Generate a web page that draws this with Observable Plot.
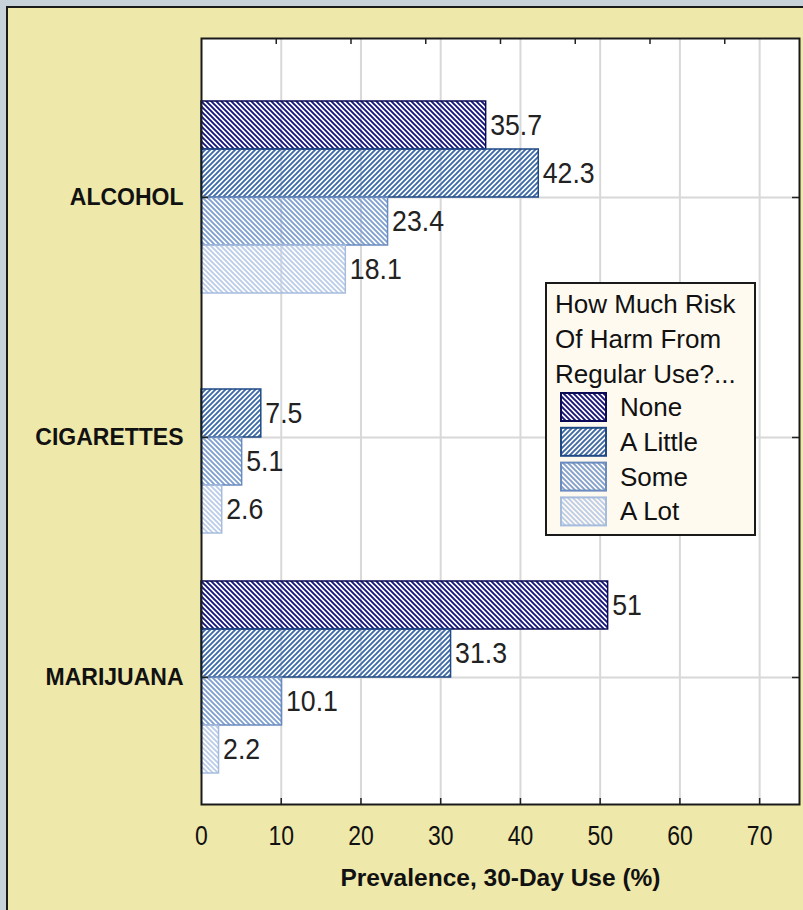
<!DOCTYPE html>
<html><head><meta charset="utf-8">
<script src="https://cdn.jsdelivr.net/npm/d3@7"></script>
<script src="https://cdn.jsdelivr.net/npm/@observablehq/plot@0.6"></script>
<style>
html,body{margin:0;padding:0;background:#c6d1d9;width:803px;height:910px;overflow:hidden}
#panel{position:absolute;left:6px;top:6px;width:830px;height:930px;background:#eee8aa;border-left:2px solid #1a1a1a;border-top:2px solid #1a1a1a;}
#chart{position:absolute;left:0;top:0}
</style></head><body><div id="panel"></div><div id="chart"></div>
<script>
// ---- data ----
const categories = ["ALCOHOL", "CIGARETTES", "MARIJUANA"];
const series = ["None", "A Little", "Some", "A Lot"];
const alcohol = [35.7, 42.3, 23.4, 18.1];
const cigarettes = [null, 7.5, 5.1, 2.6];
const marijuana = [51, 31.3, 10.1, 2.2];
const xTicks = [0, 10, 20, 30, 40, 50, 60, 70];
const topTicks = [10, 20, 30, 40, 50, 60, 70]; // top axis in source uses a 0–80 span
const topAxisMax = 80;
const legendTitle = ["How Much Risk", "Of Harm From", "Regular Use?..."];
const xTitle = "Prevalence, 30-Day Use (%)";

// ---- styles ----
const stripeColors = ["#15157e", "#3d6aa8", "#7fa0d0", "#bccde9"];
const borderColors = ["#0b0b55", "#1f4a86", "#6a8bbf", "#a6bcdd"];
const stripeDir = ["back", "fwd", "back", "back"];
const sans = "'Liberation Sans', Arial, sans-serif";

const valuesByCat = [alcohol, cigarettes, marijuana];
const rows = [];
categories.forEach((c, i) => {
  series.forEach((s, j) => {
    const v = valuesByCat[i][j];
    if (v == null) return;
    rows.push({cat: c, series: s, j, value: v, y1: i - 0.4 + 0.2 * j, y2: i - 0.2 + 0.2 * j, yc: i - 0.3 + 0.2 * j});
  });
});

const W = 803, H = 910, mL = 201, mR = 4, mT = 38, mB = 106;
const fw = W - mL - mR, fh = H - mT - mB;

const plot = Plot.plot({
  width: W, height: H,
  marginLeft: mL, marginRight: mR, marginTop: mT, marginBottom: mB,
  style: {background: "transparent", overflow: "visible"},
  x: {domain: [0, 75]},
  y: {type: "linear", domain: [-0.6625, 2.5292], reverse: true},
  marks: [
    Plot.frame({fill: "white", stroke: null}),
    Plot.ruleX(xTicks.slice(1), {x: d => d, stroke: "#d8d8d8", strokeWidth: 2}),
    Plot.ruleY([0, 1, 2], {y: d => d, stroke: "#d8d8d8", strokeWidth: 2}),
    ...series.map((s, j) => Plot.rect(rows.filter(r => r.j === j), {
      x1: 0, x2: "value", y1: "y1", y2: "y2",
      fill: `url(#hatch${j})`, stroke: borderColors[j], strokeWidth: 1.5
    })),
    Plot.text(rows, {x: "value", y: "yc", text: d => String(d.value), textAnchor: "start", dx: 4,
      fontSize: 29, fontFamily: sans, fill: "#222", className: "vlabel"}),
    Plot.tickX(xTicks.slice(1), {x: d => d, insetTop: fh - 6, stroke: "#222", strokeWidth: 1.5}),
    Plot.tickX(topTicks, {x: d => d * 75 / topAxisMax, insetBottom: fh - 6, stroke: "#222", strokeWidth: 1.5}),
    Plot.tickY([0, 1, 2], {y: d => d, insetRight: fw - 7, stroke: "#222", strokeWidth: 1.5}),
    Plot.tickY([0, 1, 2], {y: d => d, insetLeft: fw - 7, stroke: "#222", strokeWidth: 1.5}),
    Plot.frame({stroke: "#1a1a1a", strokeWidth: 2}),
    Plot.axisX(xTicks, {tickSize: 0, tickPadding: 21, fontSize: 28, fontFamily: sans, color: "#111", label: null, className: "xticks"}),
    Plot.axisY([0, 1, 2], {tickSize: 0, tickPadding: 18, tickFormat: i => categories[i],
      fontSize: 23, fontWeight: "bold", fontFamily: sans, color: "#111", label: null}),
    Plot.text([xTitle], {frameAnchor: "bottom", dy: 81, text: d => d, fontSize: 24.5, fontWeight: "bold", fontFamily: sans, fill: "#111"})
  ]
});

const svg = d3.select(plot);

// condense tick labels horizontally (source uses a narrow bitmap font)
function condense(sel, k) {
  sel.each(function () {
    const t = d3.select(this);
    const x = +t.attr("x") || 0;
    const prev = t.attr("transform") || "";
    t.attr("transform", `${prev} translate(${x},0) scale(${k},1) translate(${-x},0)`);
  });
}
condense(svg.selectAll("g[aria-label='x-axis tick label'] text, .xticks text"), 0.82);
condense(svg.selectAll(".vlabel text"), 0.92);

// hatch patterns
const defs = svg.insert("defs", ":first-child");
stripeColors.forEach((c, j) => {
  const p = defs.append("pattern").attr("id", `hatch${j}`).attr("patternUnits", "userSpaceOnUse")
    .attr("width", 5).attr("height", 5);
  const d = stripeDir[j] === "back"
    ? "M-1,-1 L6,6 M-1,4 L1,6 M4,-1 L6,1"
    : "M-1,6 L6,-1 M-1,1 L1,-1 M4,6 L6,4";
  p.append("path").attr("d", d).attr("stroke", c).attr("stroke-width", 1.9).attr("fill", "none");
});

// legend
const lg = svg.append("g").attr("font-family", sans).attr("font-size", 26).attr("fill", "#111")
  .attr("text-anchor", "start");
lg.append("rect").attr("x", 546).attr("y", 283).attr("width", 209).attr("height", 252)
  .attr("fill", "#fffaf0").attr("stroke", "#1a1a1a").attr("stroke-width", 2);
legendTitle.forEach((t, k) => lg.append("text").attr("x", 555).attr("y", 313 + 35 * k).text(t));
series.forEach((s, j) => {
  const y0 = 393 + 34.8 * j;
  lg.append("rect").attr("x", 561).attr("y", y0).attr("width", 45).attr("height", 28)
    .attr("fill", `url(#hatch${j})`).attr("stroke", borderColors[j]).attr("stroke-width", 2);
  lg.append("text").attr("x", 620).attr("y", y0 + 23).text(s);
});

document.getElementById("chart").appendChild(plot);
</script></body></html>
